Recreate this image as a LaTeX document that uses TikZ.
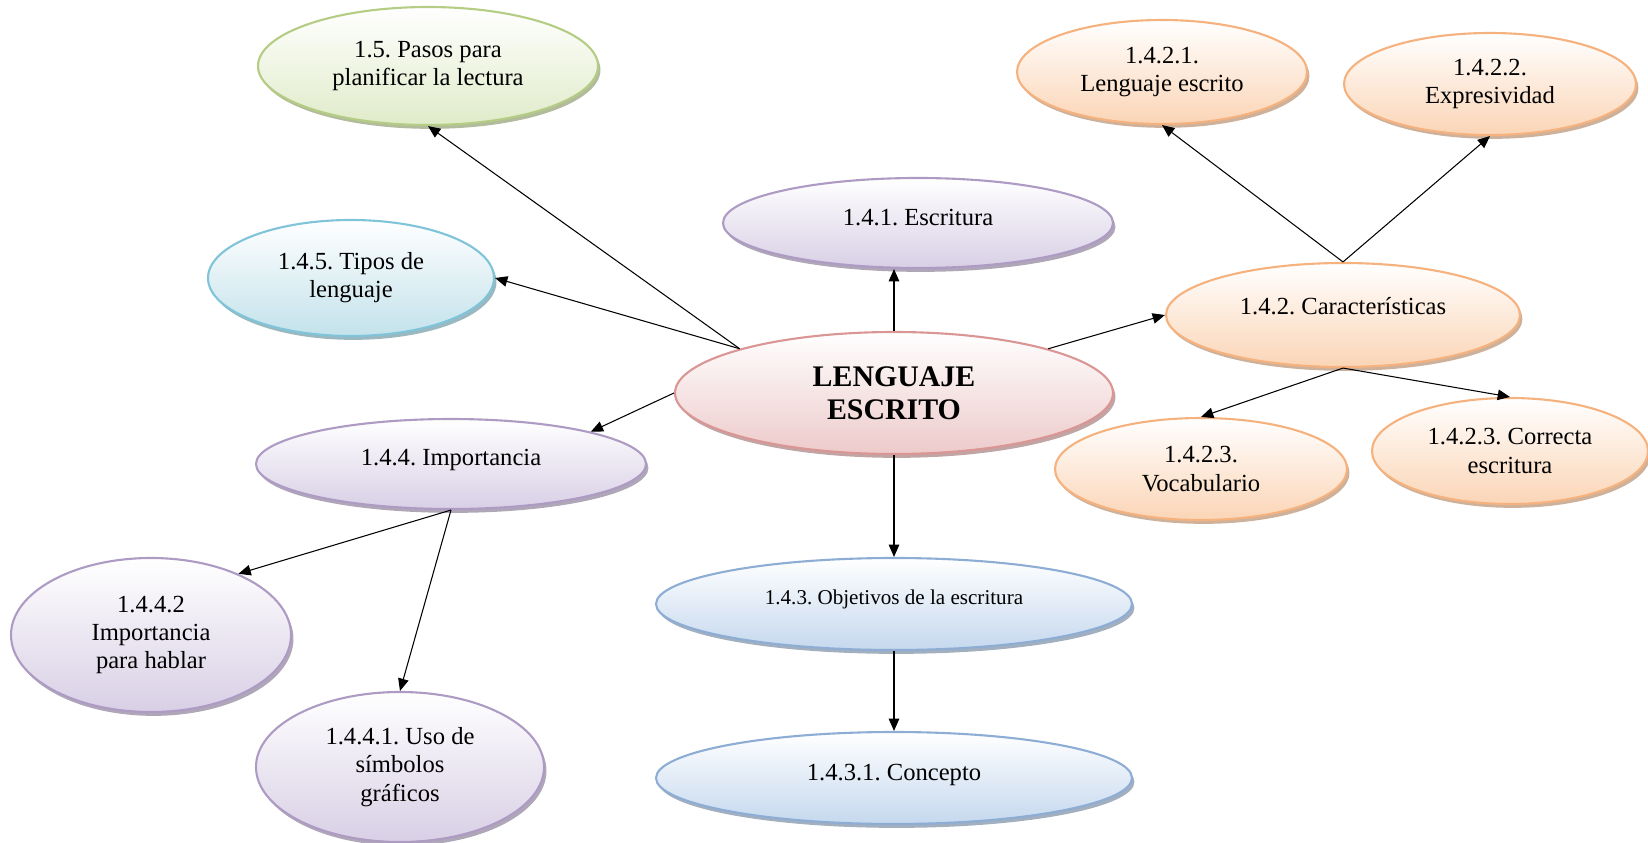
\documentclass[tikz,border=0pt]{standalone}
\usepackage{fontspec}
\setmainfont{Liberation Serif}
\usepackage{tikz}
\usetikzlibrary{
  arrows.meta,
  shapes.geometric,
  shadows,
}
\frenchspacing
\definecolor{greenline}{HTML}{B5CC84}
\definecolor{greenfill}{HTML}{E0EBC9}
\definecolor{cyanline}{HTML}{7FC4D8}
\definecolor{cyanfill}{HTML}{C3E2EB}
\definecolor{purpleline}{HTML}{AD9BC4}
\definecolor{purplefill}{HTML}{D8CFE5}
\definecolor{redline}{HTML}{D99694}
\definecolor{redfill}{HTML}{EDCACA}
\definecolor{orangeline}{HTML}{F5B27E}
\definecolor{orangefill}{HTML}{FBD5B6}
\definecolor{blueline}{HTML}{8EADD4}
\definecolor{bluefill}{HTML}{C5D8EE}
\tikzset{
  bubble/.style = {
      ellipse,
      draw=#1line,
      line width=1.2pt,
      top color=white,
      bottom color=#1fill,
      inner sep=0pt,
      align=center,
      drop shadow={shadow xshift=1.4pt, shadow yshift=-2.2pt,
                   fill=#1line!70!black, opacity=.6},
    },
  bubble/.default = purple,
  link/.style = {
      -{Triangle[length=7pt,width=6pt]},
      line width=.6pt,
      draw=black,
    },
}

\begin{document}
\begin{tikzpicture}[font=\fontsize{14}{16}\selectfont]
    \useasboundingbox (0,0) rectangle (32.96,-16.86);

    % centre
    \node[bubble=red, minimum width=8.76cm, minimum height=2.44cm,
          font=\fontsize{17}{19}\selectfont\bfseries] (lang) at (17.88,-7.86) {LENGUAJE\\ESCRITO};

    % left side
    \node[bubble=green, minimum width=6.8cm, minimum height=2.36cm] (pasos) at (8.56,-1.32) {1.5. Pasos para\\planificar la lectura};
    \node[bubble=cyan, minimum width=5.72cm, minimum height=2.32cm] (tipos) at (7.02,-5.56) {1.4.5. Tipos de\\lenguaje};
    \node[bubble, minimum width=7.8cm, minimum height=1.8cm] (imp) at (9.02,-9.28) {\raisebox{8pt}{1.4.4. Importancia}};
    \node[bubble, minimum width=5.6cm, minimum height=3.08cm] (hablar) at (3.02,-12.70) {1.4.4.2\\Importancia\\para hablar};
    \node[bubble, minimum width=5.76cm, minimum height=3.0cm] (simb) at (8.00,-15.34) {1.4.4.1. Uso de\\símbolos\\gráficos};

    % middle column
    \node[bubble, minimum width=7.8cm, minimum height=1.8cm] (escr) at (18.36,-4.46) {\raisebox{6pt}{1.4.1. Escritura}};
    \node[bubble=blue, minimum width=9.52cm, minimum height=1.84cm,
          font=\fontsize{12}{14}\selectfont] (obj) at (17.88,-12.08) {\raisebox{8pt}{1.4.3. Objetivos de la escritura}};
    \node[bubble=blue, minimum width=9.52cm, minimum height=1.84cm] (conc) at (17.88,-15.56) {\raisebox{6pt}{1.4.3.1. Concepto}};

    % right side
    \node[bubble=orange, minimum width=7.08cm, minimum height=2.08cm] (carac) at (26.86,-6.30) {\raisebox{10pt}{1.4.2. Características}};
    \node[bubble=orange, minimum width=5.8cm, minimum height=2.08cm] (lesc) at (23.24,-1.44) {1.4.2.1.\\Lenguaje escrito};
    \node[bubble=orange, minimum width=5.84cm, minimum height=2.04cm] (expr) at (29.80,-1.68) {1.4.2.2.\\Expresividad};
    \node[bubble=orange, minimum width=5.84cm, minimum height=2.04cm] (voc) at (24.02,-9.38) {1.4.2.3.\\Vocabulario};
    \node[bubble=orange, minimum width=5.52cm, minimum height=2.12cm] (corr) at (30.20,-9.02) {1.4.2.3. Correcta\\escritura};

    \draw[link] (lang.164) -- (pasos.south);
    \draw[link] (lang.164) -- (tipos.east);
    \draw[link] (lang.west) -- (imp.13);
    \draw[link] (lang.north) -- (lang.north |- escr.south);
    \draw[link] (lang.16) -- (carac.west);
    \draw[link] (lang.south) -- (obj.north);
    \draw[link] (obj.south) -- (conc.north);

    \draw[link] (carac.north) -- (lesc.south);
    \draw[link] (carac.north) -- (expr.south);
    \draw[link] (carac.south) -- (voc.north);
    \draw[link] (carac.south) -- (corr.north);

    \draw[link] (imp.south) -- (hablar.35);
    \draw[link] (imp.south) -- (simb.north);
\end{tikzpicture}
\end{document}
